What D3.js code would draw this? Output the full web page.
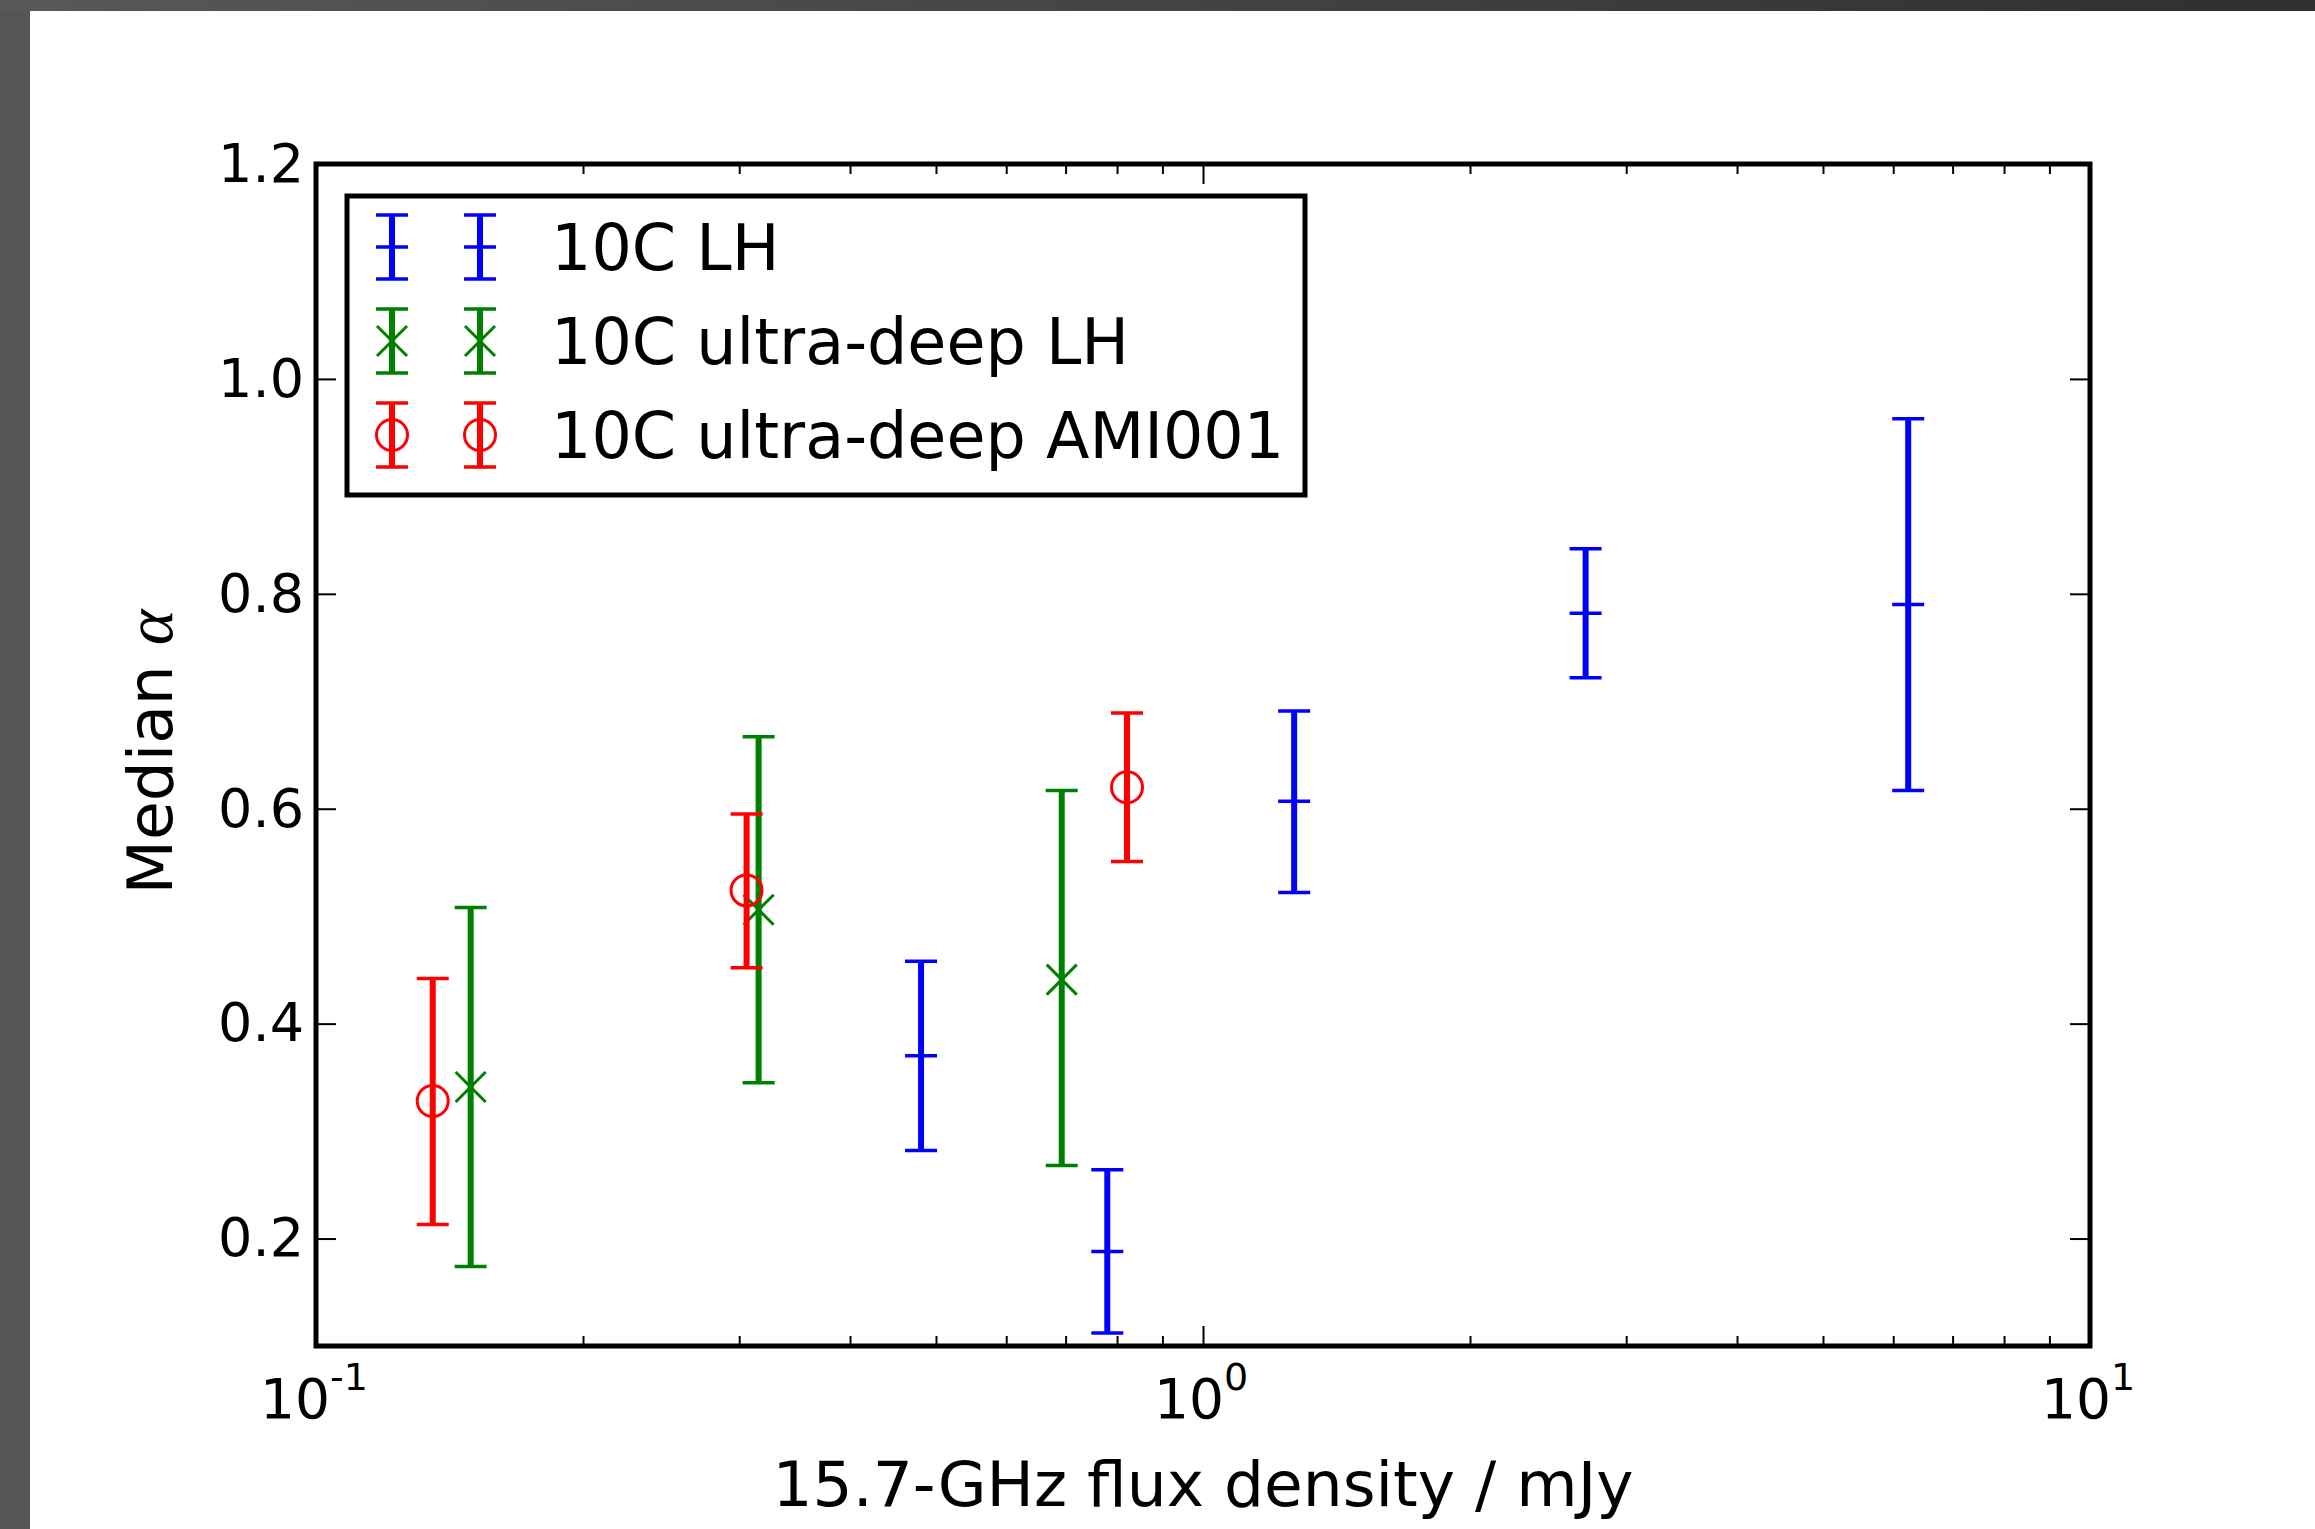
<!DOCTYPE html>
<html>
<head>
<meta charset="utf-8">
<script src="https://cdn.jsdelivr.net/npm/d3@7"></script>
<style>
  html, body { margin: 0; padding: 0; background: #fff; }
  svg { display: block; }
  text { font-family: "DejaVu Sans", sans-serif; fill: #000; }
</style>
</head>
<body>
<svg id="chart" width="2315" height="1529"></svg>
<script>
// ---- data ----
const seriesNames = ["10C LH", "10C ultra-deep LH", "10C ultra-deep AMI001"];

const lhFlux   = [0.481, 0.780, 1.267, 2.700, 6.238];
const lhAlpha  = [0.370, 0.188, 0.607, 0.782, 0.790];
const lhLow    = [0.282, 0.112, 0.522, 0.722, 0.617];
const lhHigh   = [0.458, 0.264, 0.691, 0.842, 0.963];

const udFlux   = [0.1494, 0.3155, 0.693];
const udAlpha  = [0.341, 0.506, 0.441];
const udLow    = [0.174, 0.345, 0.268];
const udHigh   = [0.508, 0.667, 0.617];

const amiFlux  = [0.1354, 0.3058, 0.821];
const amiAlpha = [0.328, 0.524, 0.620];
const amiLow   = [0.213, 0.452, 0.551];
const amiHigh  = [0.442, 0.595, 0.689];

const xMajorTicks = [0.1, 1, 10];
const xTickExp = ["-1", "0", "1"];
const yTicks = [0.2, 0.4, 0.6, 0.8, 1.0, 1.2];
const yTickLabels = ["0.2", "0.4", "0.6", "0.8", "1.0", "1.2"];
const xLabel = "15.7-GHz flux density / mJy";
const yLabel = "Median ";
const yLabelSym = "α";

// ---- layout ----
const L = 316, R = 2090, T = 164, B = 1346;
const svg = d3.select("#chart");

// dark frame (screenshot border)
const defs = svg.append("defs");
const grad = defs.append("linearGradient").attr("id", "topbar").attr("x1", "0").attr("x2", "1");
grad.append("stop").attr("offset", "0").attr("stop-color", "#585858");
grad.append("stop").attr("offset", "1").attr("stop-color", "#2f2f2f");
svg.append("rect").attr("x", 0).attr("y", 0).attr("width", 30).attr("height", 1529).attr("fill", "#555");
svg.append("rect").attr("x", 0).attr("y", 0).attr("width", 2315).attr("height", 11).attr("fill", "url(#topbar)");

const x = d3.scaleLog().domain([0.1, 10]).range([L, R]);
const y = d3.scaleLinear().domain([0.1, 1.2]).range([B, T]);

const minorTicks = [];
[0.1, 1].forEach(d => { for (let k = 2; k <= 9; k++) minorTicks.push(d * k); });

function styleAxis(g) {
  g.select(".domain").remove();
  g.selectAll(".tick line").attr("stroke", "#000").attr("stroke-width", 2);
}

// x axes (bottom & top), ticks inward
svg.append("g").attr("transform", `translate(0,${B})`)
  .call(d3.axisBottom(x).tickValues(xMajorTicks).tickSize(-20).tickFormat(""))
  .call(styleAxis);
svg.append("g").attr("transform", `translate(0,${B})`)
  .call(d3.axisBottom(x).tickValues(minorTicks).tickSize(-10).tickFormat(""))
  .call(styleAxis);
svg.append("g").attr("transform", `translate(0,${T})`)
  .call(d3.axisTop(x).tickValues(xMajorTicks).tickSize(-20).tickFormat(""))
  .call(styleAxis);
svg.append("g").attr("transform", `translate(0,${T})`)
  .call(d3.axisTop(x).tickValues(minorTicks).tickSize(-10).tickFormat(""))
  .call(styleAxis);

// y axes (left with labels, right without)
const yl = svg.append("g").attr("transform", `translate(${L},0)`)
  .call(d3.axisLeft(y).tickValues(yTicks).tickSize(-20).tickPadding(12)
    .tickFormat((d, i) => yTickLabels[i]))
  .call(styleAxis);
yl.selectAll(".tick text").attr("font-size", 54).attr("font-family", "DejaVu Sans").attr("fill", "#000");
svg.append("g").attr("transform", `translate(${R},0)`)
  .call(d3.axisRight(y).tickValues(yTicks).tickSize(-20).tickFormat(""))
  .call(styleAxis);

// x tick labels 10^n
xMajorTicks.forEach((v, i) => {
  const t = svg.append("text").attr("x", x(v) - 2).attr("y", 1418)
    .attr("text-anchor", "middle").attr("font-size", 55);
  t.append("tspan").text("10");
  t.append("tspan").attr("font-size", 38).attr("dy", -28).text(xTickExp[i]);
});

// axis labels
svg.append("text").attr("x", (L + R) / 2).attr("y", 1506).attr("text-anchor", "middle")
  .attr("font-size", 63).text(xLabel);
const ylab = svg.append("text").attr("transform", `translate(172,${(T + B) / 2 - 3}) rotate(-90)`)
  .attr("text-anchor", "middle").attr("font-size", 63);
ylab.append("tspan").text(yLabel);
ylab.append("tspan").attr("font-family", "Liberation Serif, DejaVu Serif, serif")
  .attr("font-style", "italic").attr("font-size", 68).text(yLabelSym);

// ---- data marks ----
const CAP = 16;
function drawErr(g, px, py, lo, hi, color) {
  g.append("line").attr("x1", px).attr("x2", px).attr("y1", lo).attr("y2", hi)
    .attr("stroke", color).attr("stroke-width", 6);
  [lo, hi].forEach(cy => g.append("line").attr("x1", px - CAP).attr("x2", px + CAP)
    .attr("y1", cy).attr("y2", cy).attr("stroke", color).attr("stroke-width", 3.5));
}
function drawMarker(g, kind, px, py, color) {
  if (kind === "bar") {
    g.append("line").attr("x1", px - CAP).attr("x2", px + CAP).attr("y1", py).attr("y2", py)
      .attr("stroke", color).attr("stroke-width", 3.5);
  } else if (kind === "x") {
    const s = 15;
    g.append("path").attr("d", `M${px - s},${py - s}L${px + s},${py + s}M${px - s},${py + s}L${px + s},${py - s}`)
      .attr("stroke", color).attr("stroke-width", 3).attr("fill", "none");
  } else {
    g.append("circle").attr("cx", px).attr("cy", py).attr("r", 15.5)
      .attr("stroke", color).attr("stroke-width", 3).attr("fill", "none");
  }
}

const series = [
  { fx: lhFlux, a: lhAlpha, lo: lhLow, hi: lhHigh, color: "#0000ff", kind: "bar" },
  { fx: udFlux, a: udAlpha, lo: udLow, hi: udHigh, color: "#008000", kind: "x" },
  { fx: amiFlux, a: amiAlpha, lo: amiLow, hi: amiHigh, color: "#ff0000", kind: "o" }
];
const plot = svg.append("g");
series.forEach(s => {
  const g = plot.append("g");
  s.fx.forEach((v, i) => {
    drawErr(g, x(v), y(s.a[i]), y(s.lo[i]), y(s.hi[i]), s.color);
    drawMarker(g, s.kind, x(v), y(s.a[i]), s.color);
  });
});

// axes frame
svg.append("rect").attr("x", L).attr("y", T).attr("width", R - L).attr("height", B - T)
  .attr("fill", "none").attr("stroke", "#000").attr("stroke-width", 5);

// ---- legend ----
const leg = svg.append("g");
leg.append("rect").attr("x", 347).attr("y", 196).attr("width", 1305 - 347).attr("height", 495 - 196)
  .attr("fill", "#fff").attr("stroke", "#000").attr("stroke-width", 5);
const rowY = [247, 341, 435];
const handleX = [392, 480];
series.forEach((s, i) => {
  const g = leg.append("g");
  handleX.forEach(hx => {
    drawErr(g, hx, rowY[i], rowY[i] + 32, rowY[i] - 32, s.color);
    drawMarker(g, s.kind, hx, rowY[i], s.color);
  });
  leg.append("text").attr("x", 551).attr("y", rowY[i] + 23).attr("font-size", 63.5).text(seriesNames[i]);
});
</script>
</body>
</html>
